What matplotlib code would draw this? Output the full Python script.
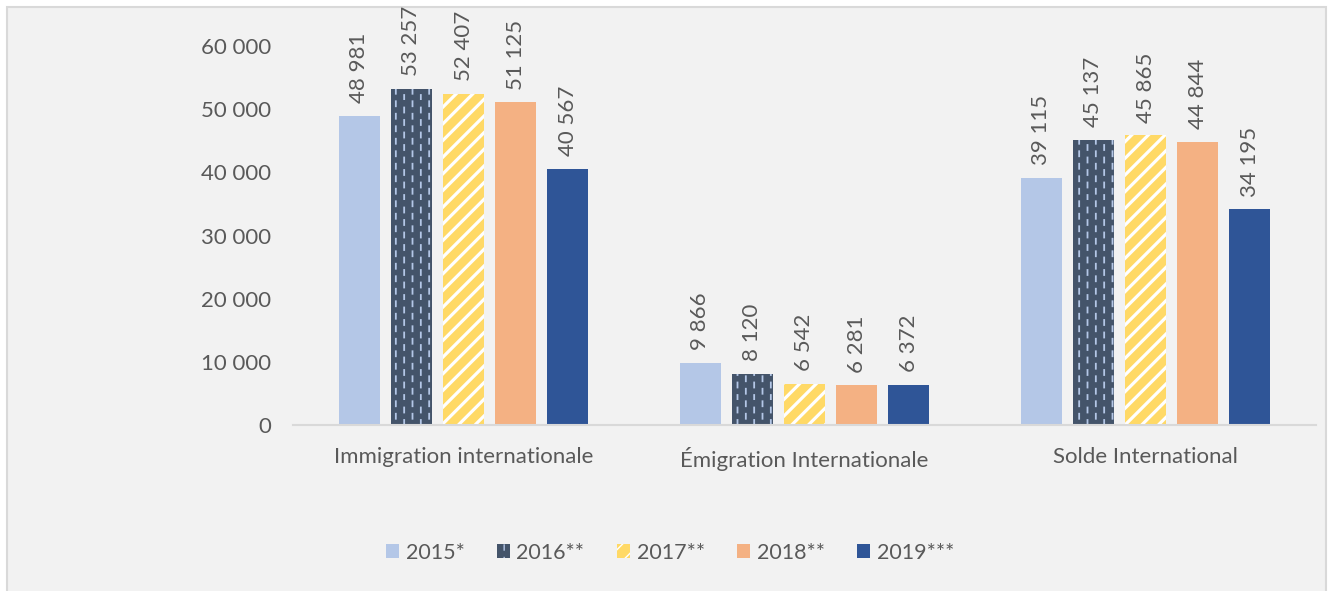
import warnings
import matplotlib
matplotlib.use("Agg")
import matplotlib.pyplot as plt
import matplotlib.hatch as mhatch
from matplotlib.path import Path
import numpy as np
from matplotlib.patches import Rectangle
from matplotlib.ticker import FuncFormatter

warnings.filterwarnings("ignore")

# data
categories = ["Immigration internationale", "Émigration Internationale", "Solde International"]
years = ["2015*", "2016**", "2017**", "2018**", "2019***"]
v2015 = [48981, 9866, 39115]
v2016 = [53257, 8120, 45137]
v2017 = [52407, 6542, 45865]
v2018 = [51125, 6281, 44844]
v2019 = [40567, 6372, 34195]
series = [v2015, v2016, v2017, v2018, v2019]

colors = ["#B4C7E7", "#44546A", "#FFD966", "#F4B183", "#2F5597"]
hatches = [None, "!!", "//", None, None]
hatch_cols = ["#B4C7E7", "#B4C7E7", "white", "#F4B183", "#2F5597"]
hatch_lw = [1, 1.3, 2.3, 1, 1]


# short staggered vertical dashes (like the office "dashed vertical" pattern)
class VDash(mhatch.HatchPatternBase):
    def __init__(self, hatch, density):
        self.num_cols = hatch.count("!") * density
        self.num_rows = 8
        self.num_vertices = self.num_cols * self.num_rows * 2

    def set_vertices_and_codes(self, vertices, codes):
        k = 0
        for c in range(self.num_cols):
            xx = (c + 0.5) / self.num_cols
            off = 0.5 if c % 2 else 0.0
            for r in range(self.num_rows):
                y0 = (r + off) / self.num_rows
                vertices[k] = (xx, y0)
                vertices[k + 1] = (xx, y0 + 0.05)
                codes[k] = Path.MOVETO
                codes[k + 1] = Path.LINETO
                k += 2


mhatch._hatch_types.append(VDash)

txt = "#595959"
plt.rcParams["font.family"] = ["Lato", "DejaVu Sans"]

fig = plt.figure(figsize=(13.3, 5.91), dpi=100)
fig.patch.set_facecolor("white")
# grey chart-area box
fig.patches.append(Rectangle((7/1330, -0.02), 1319/1330, 1 - 7/591 + 0.02, transform=fig.transFigure,
                             facecolor="#F2F2F2", edgecolor="#D9D9D9", linewidth=1.5, zorder=-5))

ax = fig.add_axes([293/1330, 166/591, 1023/1330, 379/591])
ax.set_facecolor("none")
ax.set_zorder(2)

x = np.arange(len(categories))
step = 0.1525
width = 0.122
bars = []
for i, vals in enumerate(series):
    pos = x + (i - 2) * step
    with plt.rc_context({"hatch.linewidth": hatch_lw[i]}):
        b = ax.bar(pos, vals, width, color=colors[i], edgecolor=hatch_cols[i], linewidth=0,
                   hatch=hatches[i], label=years[i])
    bars.append(b)
    for p, v in zip(pos, vals):
        ax.annotate(f"{v:,}".replace(",", " "), (p, v), xytext=(0, 9), textcoords="offset points",
                    rotation=90, ha="center", va="bottom", fontsize=16, color=txt)

ax.set_xlim(-0.5, 2.5)
ax.set_ylim(0, 60000)
ax.set_yticks(np.arange(0, 60001, 10000))
ax.yaxis.set_major_formatter(FuncFormatter(lambda v, _: f"{int(v):,}".replace(",", " ")))
ax.set_xticks(x)
ax.set_xticklabels(categories)
ax.tick_params(axis="y", length=0, pad=16, labelsize=16, labelcolor=txt)
ax.tick_params(axis="x", length=0, pad=16, labelsize=16, labelcolor=txt)
for s in ["left", "right", "top"]:
    ax.spines[s].set_visible(False)
ax.spines["bottom"].set_color("#D9D9D9")
ax.spines["bottom"].set_linewidth(1.5)

leg = fig.legend(handles=bars, labels=years, loc="center", bbox_to_anchor=(670/1330, 38/591), ncol=5,
                 frameon=False, fontsize=15.5, handlelength=0.62, handleheight=0.62,
                 handletextpad=0.3, columnspacing=1.5)
for t in leg.get_texts():
    t.set_color(txt)

fig.savefig("out.png", dpi=100, facecolor=fig.get_facecolor())
